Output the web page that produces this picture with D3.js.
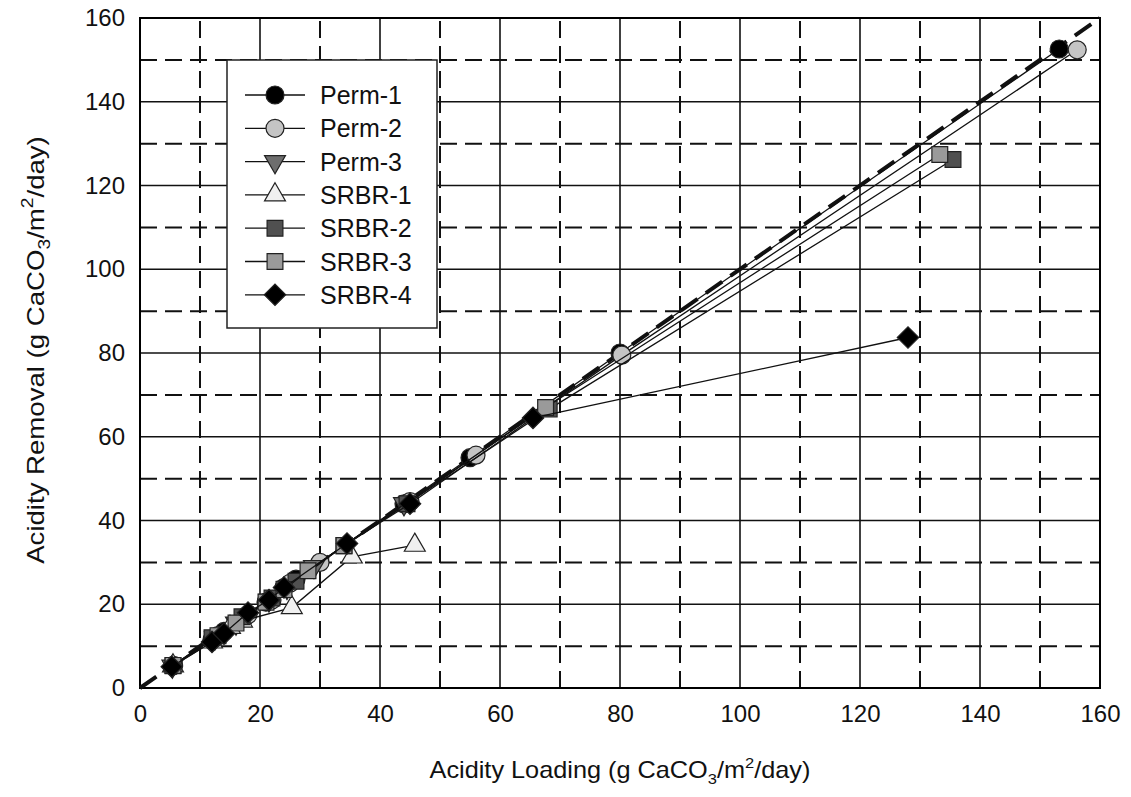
<!DOCTYPE html>
<html>
<head>
<meta charset="utf-8">
<script src="https://cdn.jsdelivr.net/npm/d3@7"></script>
<style>
  body { margin: 0; background: #fff; }
  svg { font-family: "Liberation Sans", Arial, sans-serif; }
</style>
</head>
<body>
<script>
// data: [loading, removal]
const perm1 = [[5.5,5.3],[12,11.5],[14,13.5],[17.5,17],[21,20.5],[24,24],[26,26],[44,44],[55,55],[80,80],[153.2,152.6]];
const perm2 = [[5.6,5.4],[13,12.5],[18,17.5],[22,21],[25,25],[30,30],[45,44.5],[56,55.6],[80.3,79.5],[156.2,152.4]];
const perm3 = [[5.4,5.2],[12.5,12],[16,15.5],[21.5,21],[24.5,24],[29,29],[44,44]];
const srbr1 = [[5.5,5.3],[12,11],[15,14.5],[17,16],[25.3,19.2],[35.3,31.3],[45.8,34.1]];
const srbr2 = [[5.5,5.3],[12,12],[17,17],[22,21.5],[26,25.5],[34,34],[44.5,44],[68.2,66.6],[135.5,126.2]];
const srbr3 = [[5.5,5.4],[13,12.5],[16,15.5],[21,20.5],[24,23.5],[28,28],[34,34],[67.6,67],[133.3,127.4]];
const srbr4 = [[5.3,5.1],[12,11],[14,13],[18,18],[21.5,21],[24,24],[34.5,34.5],[45,44],[65.5,64.5],[128,83.7]];

const seriesNames = ["Perm-1","Perm-2","Perm-3","SRBR-1","SRBR-2","SRBR-3","SRBR-4"];
const seriesData = [perm1, perm2, perm3, srbr1, srbr2, srbr3, srbr4];
const seriesShape = ["circle","circle","triDown","triUp","square","square","diamond"];
const seriesFill = ["#000","#c4c4c4","#6e6e6e","#f0f0f0","#505050","#9a9a9a","#000"];

const axisTicks = [0,20,40,60,80,100,120,140,160];
const solidGrid = [20,40,60,80,100,120,140];
const dashGrid = [10,30,50,70,90,110,130,150];
const oneToOne = [[0,0],[160,160]];

const width = 1131, height = 797;
const margin = {top: 18, right: 31, bottom: 109, left: 140};

const svg = d3.select("body").append("svg")
    .attr("width", width)
    .attr("height", height);

const x = d3.scaleLinear().domain([0,160]).range([margin.left, width - margin.right]);
const y = d3.scaleLinear().domain([0,160]).range([height - margin.bottom, margin.top]);

// grid
const grid = svg.append("g");
grid.selectAll(".vs").data(solidGrid).enter().append("line")
    .attr("x1", d => x(d)).attr("x2", d => x(d))
    .attr("y1", y(0)).attr("y2", y(160))
    .attr("stroke", "#111").attr("stroke-width", 1.6);
grid.selectAll(".hs").data(solidGrid).enter().append("line")
    .attr("y1", d => y(d)).attr("y2", d => y(d))
    .attr("x1", x(0)).attr("x2", x(160))
    .attr("stroke", "#111").attr("stroke-width", 1.6);
grid.selectAll(".vd").data(dashGrid).enter().append("line")
    .attr("x1", d => x(d)).attr("x2", d => x(d))
    .attr("y1", y(0)).attr("y2", y(160))
    .attr("stroke", "#111").attr("stroke-width", 2)
    .attr("stroke-dasharray", "17,8");
grid.selectAll(".hd").data(dashGrid).enter().append("line")
    .attr("y1", d => y(d)).attr("y2", d => y(d))
    .attr("x1", x(0)).attr("x2", x(160))
    .attr("stroke", "#111").attr("stroke-width", 2)
    .attr("stroke-dasharray", "17,8");

// frame
svg.append("rect")
    .attr("x", x(0)).attr("y", y(160))
    .attr("width", x(160) - x(0)).attr("height", y(0) - y(160))
    .attr("fill", "none").attr("stroke", "#000").attr("stroke-width", 2);

// axes labels
const xAxis = svg.append("g")
    .attr("transform", `translate(0,${y(0)})`)
    .call(d3.axisBottom(x).tickValues(axisTicks).tickSize(0).tickPadding(17));
const yAxis = svg.append("g")
    .attr("transform", `translate(${x(0)},0)`)
    .call(d3.axisLeft(y).tickValues(axisTicks).tickSize(0).tickPadding(15));
[xAxis, yAxis].forEach(a => {
    a.select(".domain").remove();
    a.selectAll("text").attr("font-size", 24).attr("fill", "#111")
        .attr("font-family", "Liberation Sans, Arial, sans-serif");
});

// 1:1 line
const line = d3.line().x(d => x(d[0])).y(d => y(d[1]));
svg.append("path")
    .attr("d", line(oneToOne))
    .attr("fill", "none").attr("stroke", "#111").attr("stroke-width", 4)
    .attr("stroke-dasharray", "20,10");

// markers
function marker(g, shape, fill) {
    if (shape === "circle") {
        g.append("circle").attr("r", 9).attr("fill", fill).attr("stroke", "#222").attr("stroke-width", 1.2);
    } else {
        const sym = {triDown: d3.symbolTriangle, triUp: d3.symbolTriangle, square: d3.symbolSquare, diamond: d3.symbolSquare}[shape];
        const size = {triDown: 190, triUp: 190, square: 250, diamond: 230}[shape];
        const rot = {triDown: 180, triUp: 0, square: 0, diamond: 45}[shape];
        g.append("path").attr("d", d3.symbol().type(sym).size(size)())
            .attr("transform", `rotate(${rot})`)
            .attr("fill", fill).attr("stroke", "#222").attr("stroke-width", 1.2);
    }
}

seriesData.forEach((data, i) => {
    const g = svg.append("g");
    g.append("path").attr("d", line(data))
        .attr("fill", "none").attr("stroke", "#111").attr("stroke-width", 1.3);
    g.selectAll("g").data(data).enter().append("g")
        .attr("transform", d => `translate(${x(d[0])},${y(d[1])})`)
        .each(function() { marker(d3.select(this), seriesShape[i], seriesFill[i]); });
});

// legend
const legend = svg.append("g");
legend.append("rect")
    .attr("x", 227).attr("y", 60).attr("width", 210).attr("height", 268)
    .attr("fill", "#fff").attr("stroke", "#222").attr("stroke-width", 1.5);
seriesNames.forEach((name, i) => {
    const ly = 95 + i * 33.3;
    const row = legend.append("g");
    row.append("line").attr("x1", 245).attr("x2", 305).attr("y1", ly).attr("y2", ly)
        .attr("stroke", "#111").attr("stroke-width", 1.3);
    const mg = row.append("g").attr("transform", `translate(275,${ly})`);
    marker(mg, seriesShape[i], seriesFill[i]);
    row.append("text").attr("x", 320).attr("y", ly + 9)
        .attr("font-size", 25).attr("fill", "#111").text(name);
});

// axis titles
const xt = svg.append("text")
    .attr("transform", `translate(${(x(0) + x(160)) / 2},778) scale(1.1,1)`)
    .attr("text-anchor", "middle").attr("font-size", 23).attr("fill", "#111");
xt.append("tspan").text("Acidity Loading (g CaCO");
xt.append("tspan").attr("font-size", 15).attr("dy", 6).text("3");
xt.append("tspan").attr("dy", -6).text("/m");
xt.append("tspan").attr("font-size", 15).attr("dy", -10).text("2");
xt.append("tspan").attr("dy", 10).text("/day)");

const yt = svg.append("text")
    .attr("transform", `translate(44,${(y(0) + y(160)) / 2 - 3}) rotate(-90) scale(1.2,1)`)
    .attr("text-anchor", "middle").attr("font-size", 23).attr("fill", "#111");
yt.append("tspan").text("Acidity Removal (g CaCO");
yt.append("tspan").attr("font-size", 16).attr("dy", 6).text("3");
yt.append("tspan").attr("dy", -6).text("/m");
yt.append("tspan").attr("font-size", 16).attr("dy", -11).text("2");
yt.append("tspan").attr("dy", 11).text("/day)");
</script>
</body>
</html>
